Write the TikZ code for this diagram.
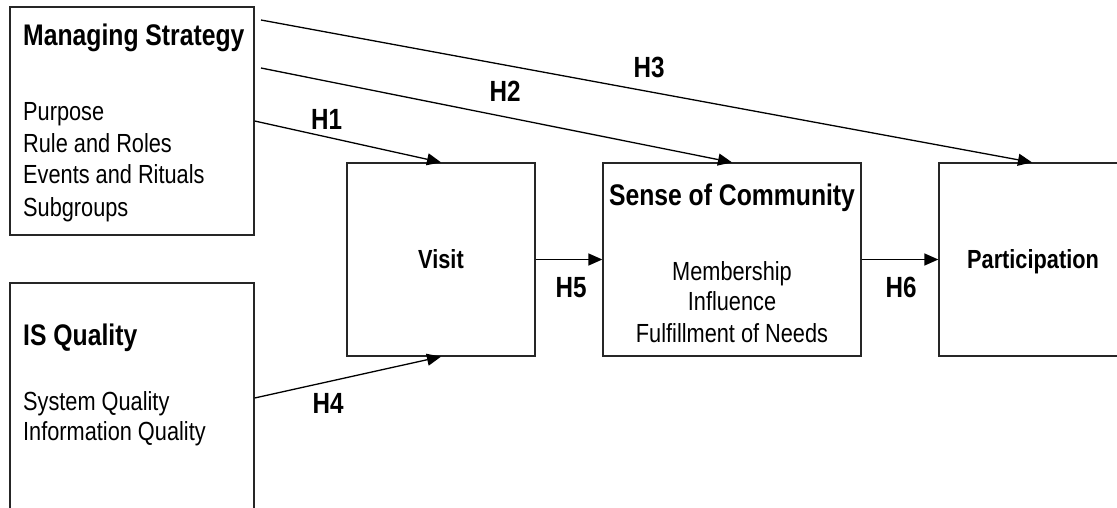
\documentclass[tikz,border=0pt]{standalone}
\usepackage{fontspec}
\setmainfont{Liberation Sans}[FakeStretch=0.83]
\usetikzlibrary{arrows.meta}
\begin{document}
\begin{tikzpicture}[x=1pt,y=-1pt,
  box/.style={draw=black!85, line width=1.3pt, rectangle, inner sep=0pt},
  ttl/.style={font=\fontsize{29.8}{32}\selectfont\bfseries, inner sep=0pt, anchor=base west},
  item/.style={font=\fontsize{26.2}{30}\selectfont, inner sep=0pt, anchor=base west},
  citem/.style={font=\fontsize{26.2}{30}\selectfont, inner sep=0pt, anchor=base},
  cttl/.style={font=\fontsize{26.2}{30}\selectfont\bfseries, inner sep=0pt, anchor=base},
  hlab/.style={font=\fontsize{29.2}{30}\selectfont\bfseries, inner sep=0pt, anchor=base},
  arr/.style={line width=1.3pt, -{Triangle[length=14pt,width=12pt]}}
]
\clip (0,0) rectangle (1117,508);
\fill[white] (0,0) rectangle (1117,508);

% boxes
\node[box, minimum width=244pt, minimum height=228pt] (ms) at (132,121) {};
\node[box, minimum width=244pt, minimum height=230pt] (isq) at (132,398) {};
\node[box, minimum width=188pt, minimum height=193pt] (visit) at (441,259.5) {};
\node[box, minimum width=258pt, minimum height=193pt] (soc) at (732,259.5) {};
\node[box, minimum width=186pt, minimum height=193pt] (part) at (1032,259.5) {};

% Managing strategy texts
\node[ttl] (mst) at (23,46) {Managing Strategy};
\node[item] (ms1) at (23,121) {Purpose};
\node[item] (ms2) at (23,153) {Rule and Roles};
\node[item] (ms3) at (23,184) {Events and Rituals};
\node[item] (ms4) at (23,216) {Subgroups};

% IS quality texts
\node[ttl] (isqt) at (23,345) {IS Quality};
\node[item] (isq1) at (23,410) {System Quality};
\node[item] (isq2) at (23,440) {Information Quality};

% Visit
\node[cttl] (vt) at (441,268) {Visit};

% Sense of community
\node[ttl, anchor=base] (soct) at (732,205) {Sense of Community};
\node[citem] (soc1) at (732,280) {Membership};
\node[citem] (soc2) at (732,310) {Influence};
\node[citem] (soc3) at (732,342) {Fulfillment of Needs};

% Participation
\node[cttl] (pt) at (1033,268) {Participation};

% arrows
\coordinate (h2s) at (261,68);
\coordinate (h3s) at (261,20);
\draw[arr] (ms.east) -- (visit.north);
\draw[arr] (h2s) -- (soc.north);
\draw[arr] (h3s) -- (part.north);
\draw[arr] (isq.east) -- (visit.south);
\draw[arr] (visit.east) -- (soc.west);
\draw[arr] (soc.east) -- (part.west);

% labels
\node[hlab] (h1) at (326.5,130) {H1};
\node[hlab] (h2) at (505,102) {H2};
\node[hlab] (h3) at (649,78) {H3};
\node[hlab] (h4) at (328,413) {H4};
\node[hlab] (h5) at (571,297) {H5};
\node[hlab] (h6) at (901,297) {H6};
\end{tikzpicture}
\end{document}
